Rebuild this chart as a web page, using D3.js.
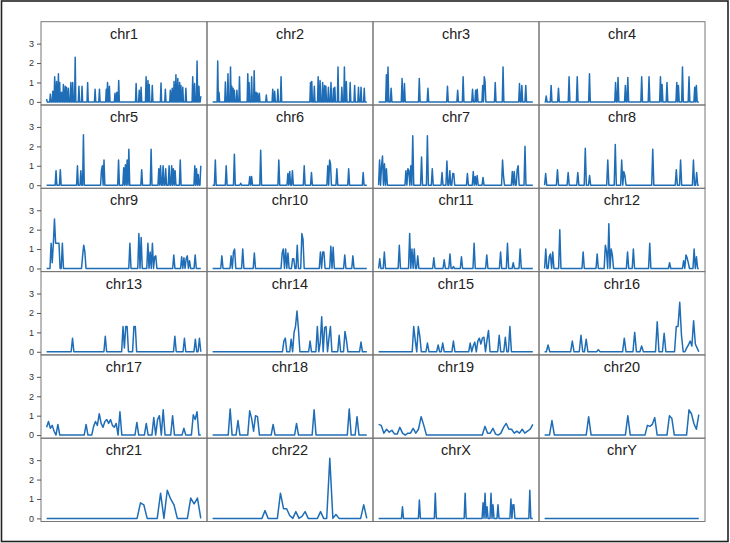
<!DOCTYPE html>
<html>
<head>
<meta charset="utf-8">
<script src="https://cdn.jsdelivr.net/npm/d3@7"></script>
<style>
  html, body { margin: 0; padding: 0; background: #fff; }
  svg { display: block; }
</style>
</head>
<body>
<svg id="chart" width="730" height="543"></svg>
<script>
// Chromosome names and number of 1-Mb bins per chromosome
const chromNames = ["chr1","chr2","chr3","chr4","chr5","chr6","chr7","chr8","chr9","chr10","chr11","chr12",
  "chr13","chr14","chr15","chr16","chr17","chr18","chr19","chr20","chr21","chr22","chrX","chrY"];
const chromBins = [249,242,198,190,181,171,159,145,138,134,135,133,114,107,102,90,83,80,59,64,47,51,156,57];
const yTicks = [0, 1, 2, 3];

// Non-zero bins: [bin (Mb), value]; all other bins are 0
const chr1 = [[0,0.15],[6,0.4],[10,0.55],[13,1.3],[16,1.05],[19,1.45],[21,1.0],[24,0.5],[27,0.9],[30,0.8],[32,0.75],[35,0.7],[39,1.0],[42,1.0],[46,2.3],[52,0.8],[57,0.8],[66,1.0],[78,0.65],[85,0.65],[96,0.65],[98,1.0],[101,0.8],[110,0.45],[113,0.5],[116,1.1],[144,0.95],[149,0.6],[152,0.75],[160,1.3],[163,1.1],[165,0.9],[170,0.85],[184,0.97],[191,0.65],[199,0.6],[202,0.7],[205,1.05],[208,1.4],[211,1.2],[214,1.0],[216,0.85],[219,0.75],[224,0.7],[235,1.3],[238,0.95],[242,2.1],[245,0.8],[248,0.3]];
const chr2 = [[8,2.1],[10,0.5],[20,1.03],[24,1.45],[28,1.8],[30,0.8],[32,0.7],[34,0.6],[38,0.6],[42,1.3],[55,1.45],[57,1.0],[61,1.3],[65,1.6],[68,0.5],[70,0.45],[73,0.45],[84,0.35],[94,0.65],[97,0.55],[102,0.65],[107,1.3],[153,1.0],[155,1.05],[159,0.8],[165,1.3],[168,1.1],[172,1.0],[175,0.85],[177,0.8],[181,0.75],[185,1.0],[189,0.7],[191,0.75],[196,1.8],[202,0.75],[206,1.8],[209,1.05],[215,1.0],[222,0.85],[228,0.75],[232,0.75],[237,0.7]];
const chr3 = [[10,1.4],[12,1.8],[16,0.7],[30,1.2],[33,0.95],[52,1.2],[63,0.7],[88,0.8],[101,0.6],[108,1.3],[120,0.65],[124,0.6],[126,0.65],[133,0.85],[135,1.3],[136,1.05],[149,1.0],[159,1.8],[180,0.95],[183,0.85],[188,0.85]];
const chr4 = [[2,0.3],[8,0.85],[17,0.7],[30,1.3],[40,1.3],[55,1.45],[87,1.0],[90,1.25],[99,0.85],[102,1.25],[119,1.3],[128,1.3],[142,1.3],[144,0.9],[150,1.0],[162,1.0],[164,0.85],[169,1.8],[177,1.3],[184,0.75],[186,0.85]];
const chr5 = [[11,0.75],[16,0.8],[36,1.0],[40,0.75],[43,2.6],[64,0.75],[65,1.0],[67,1.3],[84,1.3],[90,0.9],[92,1.05],[94,1.3],[96,1.85],[111,0.8],[122,1.85],[131,0.85],[133,1.0],[136,1.0],[139,0.85],[143,1.0],[146,1.0],[148,0.85],[150,0.75],[156,1.3],[173,1.0],[175,0.85],[177,0.55],[180,1.0]];
const chr6 = [[3,1.3],[15,1.0],[24,1.6],[31,0.1],[41,0.45],[43,0.45],[53,1.8],[73,1.3],[83,0.6],[85,0.7],[88,0.75],[101,1.0],[109,0.65],[127,1.0],[129,1.3],[130,1.1],[137,0.85],[150,0.85],[166,0.65]];
const chr7 = [[1,1.3],[3,1.0],[4,1.5],[6,1.1],[8,0.85],[28,0.75],[30,0.85],[31,0.75],[33,1.0],[35,2.55],[44,1.45],[50,2.55],[55,0.85],[65,0.65],[70,1.25],[73,0.75],[76,0.6],[77,0.6],[91,0.6],[97,0.7],[99,0.45],[101,0.5],[107,0.4],[127,1.3],[128,0.45],[137,0.7],[139,0.7],[142,0.8],[143,1.0],[150,2.0]];
const chr8 = [[1,0.6],[12,0.8],[22,0.65],[31,0.65],[38,1.9],[42,0.5],[59,1.3],[66,2.1],[72,1.3],[74,0.7],[75,0.5],[101,1.85],[123,0.8],[127,1.3],[139,1.3],[142,0.65]];
const chr9 = [[4,1.3],[5,0.3],[6,1.3],[7,2.55],[8,1.3],[9,1.3],[10,1.3],[11,1.3],[14,1.3],[32,0.65],[33,1.2],[34,0.85],[74,1.3],[82,1.8],[84,1.6],[90,1.3],[92,0.85],[94,1.3],[96,0.6],[97,0.65],[113,0.7],[120,0.6],[122,0.55],[124,0.5],[125,0.65],[127,0.4],[132,0.7]];
const chr10 = [[8,0.65],[16,0.65],[18,0.85],[19,1.0],[26,1.0],[36,0.8],[60,0.8],[61,1.0],[63,1.0],[65,0.8],[69,0.5],[70,0.5],[73,1.2],[77,1.8],[78,1.5],[93,0.85],[95,0.85],[96,0.85],[102,1.15],[104,1.1],[114,0.7],[121,0.65]];
const chr11 = [[1,0.5],[5,0.85],[18,1.2],[27,1.8],[29,1.0],[31,1.0],[34,0.65],[48,0.55],[57,0.45],[62,0.75],[65,0.1],[72,0.6],[83,1.3],[94,0.7],[106,0.85],[112,1.3],[117,0.3],[123,1.0]];
const chr12 = [[1,1.0],[4,0.6],[5,0.75],[7,0.85],[13,2.0],[33,0.85],[45,0.75],[52,1.2],[53,0.9],[55,2.3],[57,1.0],[58,0.7],[71,0.85],[76,1.0],[90,1.3],[107,0.3],[119,0.4],[121,0.7],[122,0.55],[123,0.3],[128,1.0],[130,0.6]];
const chr13 = [[19,0.7],[43,0.8],[56,1.3],[57,0.2],[58,1.3],[59,1.3],[64,1.3],[65,1.3],[94,0.8],[101,0.7],[109,0.65],[112,0.7]];
const chr14 = [[49,0.55],[50,0.7],[54,0.65],[56,1.0],[57,1.3],[58,2.1],[59,1.2],[67,0.55],[72,1.3],[74,0.5],[75,1.8],[77,1.25],[78,1.3],[80,0.7],[81,1.3],[87,0.85],[91,1.05],[92,0.6],[102,0.5]];
const chr15 = [[23,1.3],[24,0.6],[26,1.3],[27,0.8],[32,0.45],[39,0.35],[42,0.45],[49,0.55],[60,0.45],[62,0.3],[63,0.5],[65,0.55],[66,0.7],[67,0.4],[68,0.7],[69,0.75],[71,0.6],[72,1.1],[79,0.85],[83,0.75],[86,1.3]];
const chr16 = [[2,0.35],[16,0.55],[21,0.85],[24,0.65],[31,0.1],[46,0.7],[52,1.0],[56,0.3],[65,1.55],[69,0.95],[76,1.3],[77,1.3],[78,2.55],[79,0.85],[82,0.2],[83,0.35],[84,0.55],[85,0.3],[86,1.6],[87,0.4],[88,0.2]];
const chr17 = [[0,0.4],[1,0.7],[2,0.35],[3,0.5],[4,0.2],[6,0.55],[21,0.55],[25,0.45],[26,0.7],[27,0.5],[28,1.1],[29,0.6],[30,0.4],[31,0.7],[32,0.8],[33,0.6],[34,0.8],[35,0.5],[36,0.4],[37,0.6],[39,1.2],[48,0.65],[53,0.6],[57,0.9],[59,0.8],[60,1.0],[62,1.3],[67,1.0],[73,0.35],[78,1.05],[79,0.8],[80,1.2]];
const chr18 = [[9,1.35],[13,0.75],[19,1.25],[20,0.85],[21,0.2],[22,1.0],[23,0.95],[31,0.55],[43,0.6],[52,1.3],[70,1.35],[74,0.95]];
const chr19 = [[0,0.55],[1,0.5],[2,0.1],[3,0.3],[4,0.15],[5,0.25],[6,0.05],[7,0.05],[8,0.4],[9,0.1],[11,0.1],[12,0.1],[13,0.35],[14,0.1],[15,0.3],[16,0.95],[17,0.5],[40,0.45],[41,0.1],[42,0.1],[43,0.35],[44,0.05],[46,0.1],[47,0.4],[48,0.6],[49,0.3],[50,0.3],[51,0.1],[52,0.2],[53,0.1],[54,0.3],[55,0.1],[56,0.2],[57,0.3],[58,0.55]];
const chr20 = [[3,0.75],[18,0.95],[34,1.0],[42,0.5],[43,0.45],[44,0.55],[45,0.9],[51,1.0],[52,0.85],[59,1.3],[60,1.1],[61,0.6],[62,0.3],[63,1.05]];
const chr21 = [[28,0.8],[29,0.7],[34,1.3],[36,1.45],[37,1.0],[38,0.7],[43,1.05],[44,0.75],[45,1.05]];
const chr22 = [[17,0.4],[22,1.3],[23,0.5],[24,0.5],[25,0.15],[27,0.35],[29,0.1],[30,0.35],[35,0.35],[38,3.1],[40,0.2],[49,0.7]];
const chrX = [[24,0.6],[41,0.95],[57,1.3],[87,1.3],[105,0.8],[107,1.3],[109,0.6],[113,1.3],[115,0.7],[120,0.7],[133,1.0],[135,0.7],[136,0.7],[152,1.45]];
const chrY = [];

const chromPeaks = [chr1,chr2,chr3,chr4,chr5,chr6,chr7,chr8,chr9,chr10,chr11,chr12,chr13,chr14,chr15,chr16,chr17,chr18,chr19,chr20,chr21,chr22,chrX,chrY];

// ---- layout ----
const svg = d3.select("#chart");
const gridLeft = 41, gridTop = 21.7, pw = 166, ph = 83.3, ncol = 4;
const lineColor = "#1f6db6";

// outer frame
svg.append("rect")
  .attr("x", 1.5).attr("y", 1).attr("width", 726.5).attr("height", 540.5)
  .attr("fill", "none").attr("stroke", "#222").attr("stroke-width", 1.6);

const yScale = d3.scaleLinear().domain([-0.16, 4.13]).range([ph, 0]);

chromNames.forEach((name, i) => {
  const r = Math.floor(i / ncol), c = i % ncol;
  const g = svg.append("g").attr("transform", `translate(${gridLeft + c * pw},${gridTop + r * ph})`);
  const n = chromBins[i];
  const vals = new Array(n).fill(0);
  chromPeaks[i].forEach(([b, v]) => { vals[b] = v; });
  const xScale = d3.scaleLinear().domain([0, n - 1]).range([5.6, pw - 6.2]);

  g.append("path")
    .datum(vals)
    .attr("fill", "none")
    .attr("stroke", lineColor)
    .attr("stroke-width", 1.5)
    .attr("stroke-linejoin", "round")
    .attr("d", d3.line().x((d, j) => xScale(j)).y(d => yScale(d)));

  g.append("rect")
    .attr("x", 0).attr("y", 0).attr("width", pw).attr("height", ph)
    .attr("fill", "none").attr("stroke", "#777").attr("stroke-width", 1);

  g.append("text")
    .attr("x", pw / 2).attr("y", 17)
    .attr("text-anchor", "middle")
    .attr("font-family", "Liberation Sans, Arial, sans-serif")
    .attr("font-size", 14.5)
    .attr("fill", "#222")
    .text(name);

  if (c === 0) {
    const ax = g.append("g").call(d3.axisLeft(yScale).tickValues(yTicks).tickSize(4).tickPadding(3).tickFormat(d3.format("d")));
    ax.select(".domain").remove();
    ax.selectAll("line").attr("stroke", "#555");
    ax.selectAll("text").attr("fill", "#333").attr("font-size", 9)
      .attr("font-family", "Liberation Sans, Arial, sans-serif");
  }
});
</script>
</body>
</html>
